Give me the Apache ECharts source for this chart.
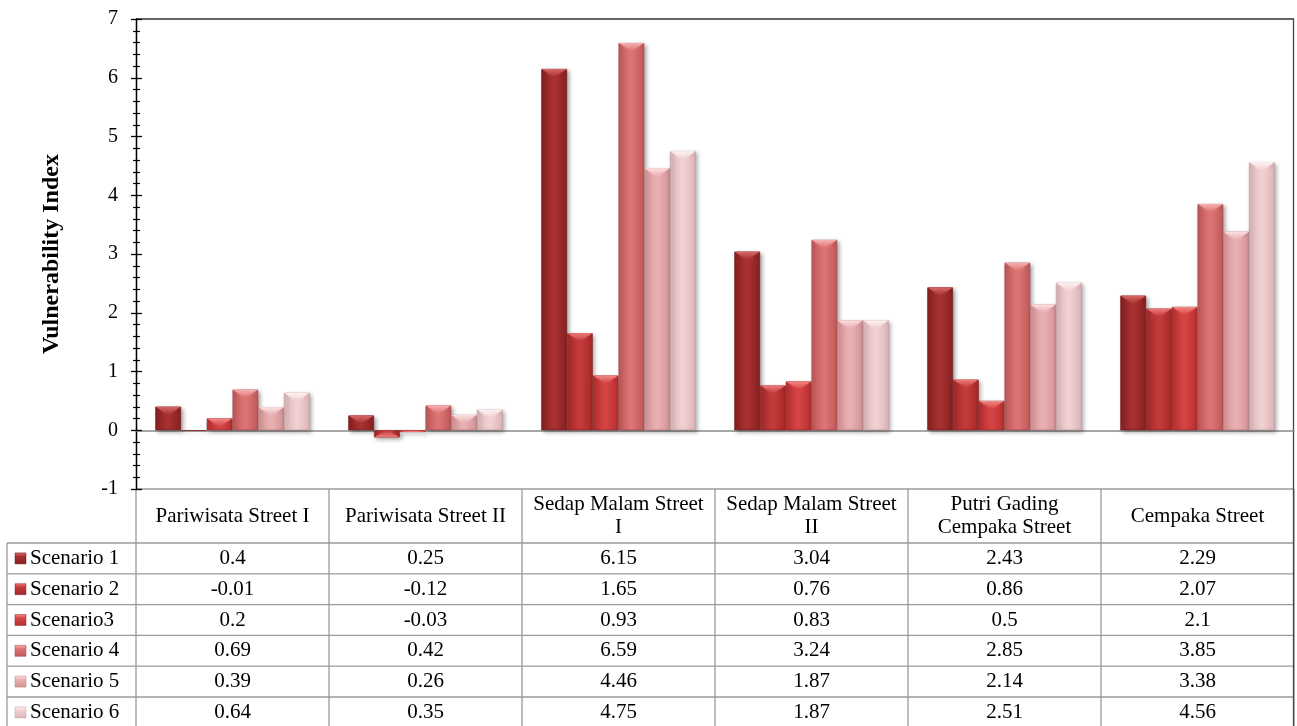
<!DOCTYPE html>
<html>
<head>
<meta charset="utf-8">
<script src="https://cdn.jsdelivr.net/npm/echarts@6/dist/echarts.min.js"></script>
<style>
  html, body { margin: 0; padding: 0; background: #fff; }
  #chart { width: 1297px; height: 726px; }
</style>
</head>
<body>
<div id="chart"></div>
<script>
// Street names (data table header text, with the wrapping used in the header cells)
const categories = ['Pariwisata Street I', 'Pariwisata Street II', 'Sedap Malam Street I',
                    'Sedap Malam Street II', 'Putri Gading Cempaka Street', 'Cempaka Street'];
const headerLabels = ['Pariwisata Street I', 'Pariwisata Street II', 'Sedap Malam Street\nI',
                      'Sedap Malam Street\nII', 'Putri Gading\nCempaka Street', 'Cempaka Street'];

// Vulnerability index per scenario
const seriesNames = ['Scenario 1', 'Scenario 2', 'Scenario3', 'Scenario 4', 'Scenario 5', 'Scenario 6'];
const scenario1 = [0.4, 0.25, 6.15, 3.04, 2.43, 2.29];
const scenario2 = [-0.01, -0.12, 1.65, 0.76, 0.86, 2.07];
const scenario3 = [0.2, -0.03, 0.93, 0.83, 0.5, 2.1];
const scenario4 = [0.69, 0.42, 6.59, 3.24, 2.85, 3.85];
const scenario5 = [0.39, 0.26, 4.46, 1.87, 2.14, 3.38];
const scenario6 = [0.64, 0.35, 4.75, 1.87, 2.51, 4.56];
const seriesData = [scenario1, scenario2, scenario3, scenario4, scenario5, scenario6];

// Y axis range
const yMin = -1, yMax = 7, yStep = 1;

// Bar shading: [edge, centre, border, bevel highlight]
const palette = [
  ['#862020', '#a83030', '#6e1a1a', '#d86a6a'],
  ['#a52828', '#c23a3a', '#8a2020', '#ec7a7a'],
  ['#b82e2e', '#d44444', '#962424', '#f48888'],
  ['#c25858', '#dc7474', '#a04848', '#f6b0b0'],
  ['#d49294', '#e8b0b2', '#b88080', '#fde0e0'],
  ['#dcb4b6', '#f0d0d2', '#c0a0a2', '#fff2f2']
];

const FONT = "'Liberation Serif', 'Times New Roman', serif";
const W = 1297, H = 726;
const gridLeft = 136, gridRight = 3, gridTop = 19, gridBottom = 237;
const tableTop = H - gridBottom;        // header row top
const headerH = 54;
const rowH = 30.8;
const legendLeft = 7;
const catGap = 0.2;                      // barCategoryGap as a fraction
const bevel = 8;

function grad(c) {
  return new echarts.graphic.LinearGradient(0, 0, 1, 0, [
    { offset: 0, color: c[0] },
    { offset: 0.45, color: c[1] },
    { offset: 0.55, color: c[1] },
    { offset: 1, color: c[0] }
  ]);
}

const chart = echarts.init(document.getElementById('chart'), null, { renderer: 'canvas' });

const series = seriesNames.map((name, i) => ({
  name: name,
  type: 'bar',
  data: seriesData[i],
  barGap: '0%',
  barCategoryGap: (catGap * 100) + '%',
  itemStyle: {
    color: grad(palette[i]),
    borderColor: palette[i][2],
    borderWidth: 0.6,
    shadowColor: 'rgba(0,0,0,0.35)',
    shadowBlur: 4,
    shadowOffsetX: 2,
    shadowOffsetY: 2
  }
}));

// Bevelled cap on the end of each bar, placed with the same band layout as the bars
const capData = [];
seriesData.forEach((arr, s) => arr.forEach((v, c) => capData.push([c, v, s])));
series.push({
  type: 'custom',
  silent: true,
  z: 5,
  data: capData,
  encode: { x: 0, y: 1 },
  renderItem: function (params, api) {
    const c = api.value(0), v = api.value(1), s = api.value(2);
    const band = api.size([1, 0])[0];
    const barW = band * (1 - catGap) / seriesNames.length;
    const end = api.coord([c, v]);
    const base = api.coord([c, 0]);
    const x0 = end[0] - band * (1 - catGap) / 2 + s * barW;
    const x1 = x0 + barW;
    const len = Math.abs(base[1] - end[1]);
    const d = Math.min(bevel, len);
    if (d < 1) return null;
    const dir = v >= 0 ? 1 : -1;
    const y = end[1];
    const col = palette[s];
    return {
      type: 'group',
      children: [
        {
          type: 'polygon',
          shape: { points: [[x0 + 0.5, y], [x1 - 0.5, y], [x1 - 0.5 - d, y + dir * d], [x0 + 0.5 + d, y + dir * d]] },
          style: { fill: col[1], opacity: 0.9 }
        },
        {
          type: 'polygon',
          shape: { points: [[x0 + 0.5, y], [x1 - 0.5, y], [(x0 + x1) / 2, y + dir * d]] },
          style: {
            fill: new echarts.graphic.LinearGradient(0, dir > 0 ? 0 : 1, 0, dir > 0 ? 1 : 0, [
              { offset: 0, color: col[3] },
              { offset: 1, color: col[1] }
            ])
          }
        }
      ]
    };
  }
});

// Data table below the plot
const colW = (W - gridLeft - gridRight) / categories.length;
const tableRight = W - gridRight;
const lineStyle = { stroke: '#9a9a9a', lineWidth: 1.3 };
const graphics = [];

function hLine(x1, x2, y, style) {
  graphics.push({ type: 'line', shape: { x1: x1, y1: y, x2: x2, y2: y }, style: style || lineStyle, silent: true });
}
function vLine(x, y1, y2, style) {
  graphics.push({ type: 'line', shape: { x1: x, y1: y1, x2: x, y2: y2 }, style: style || lineStyle, silent: true });
}

// header row
hLine(gridLeft, tableRight, tableTop);
for (let c = 0; c <= categories.length; c++) {
  vLine(gridLeft + c * colW, tableTop, H);
}
headerLabels.forEach((t, c) => {
  graphics.push({
    type: 'text', silent: true,
    style: {
      text: t, x: gridLeft + (c + 0.5) * colW, y: tableTop + headerH / 2,
      align: 'center', verticalAlign: 'middle',
      font: '21px ' + FONT, fill: '#000', lineHeight: 23
    }
  });
});

// scenario rows
const rowsTop = tableTop + headerH;
for (let r = 0; r <= seriesNames.length; r++) {
  hLine(legendLeft, tableRight, rowsTop + r * rowH);
}
vLine(legendLeft, rowsTop, H);
seriesNames.forEach((name, r) => {
  const cy = rowsTop + (r + 0.5) * rowH;
  graphics.push({
    type: 'rect', silent: true,
    shape: { x: legendLeft + 8, y: cy - 5.5, width: 11, height: 11 },
    style: {
      fill: new echarts.graphic.LinearGradient(0, 0, 0, 1, [
        { offset: 0, color: palette[r][3] },
        { offset: 0.35, color: palette[r][1] },
        { offset: 1, color: palette[r][0] }
      ]),
      stroke: palette[r][2], lineWidth: 0.5
    }
  });
  graphics.push({
    type: 'text', silent: true,
    style: { text: name, x: legendLeft + 23, y: cy, align: 'left', verticalAlign: 'middle',
             font: '21px ' + FONT, fill: '#000' }
  });
  seriesData[r].forEach((v, c) => {
    graphics.push({
      type: 'text', silent: true,
      style: { text: String(v), x: gridLeft + (c + 0.5) * colW, y: cy, align: 'center',
               verticalAlign: 'middle', font: '21px ' + FONT, fill: '#000' }
    });
  });
});

// plot frame: top edge and right edge (right edge runs down through the table)
hLine(gridLeft, tableRight, gridTop, { stroke: '#333', lineWidth: 1.3 });
vLine(tableRight - 0.5, gridTop, H, { stroke: '#444', lineWidth: 1.3 });

const yAxisBase = {
  type: 'value', min: yMin, max: yMax, interval: yStep,
  splitLine: { show: false },
  axisLine: { show: true, onZero: false, lineStyle: { color: '#000', width: 1.3 } }
};

chart.setOption({
  animation: false,
  backgroundColor: '#fff',
  grid: { left: gridLeft, right: gridRight, top: gridTop, bottom: gridBottom, containLabel: false },
  xAxis: {
    type: 'category', data: categories,
    axisLine: { show: true, onZero: true, lineStyle: { color: '#8a8a8a', width: 1.5 } },
    axisTick: { show: false },
    axisLabel: { show: false },
    splitLine: { show: false }
  },
  yAxis: [
    Object.assign({}, yAxisBase, {
      name: 'Vulnerability Index',
      nameLocation: 'middle',
      nameGap: 72,
      nameRotate: 90,
      nameTextStyle: { fontFamily: FONT, fontSize: 24, fontWeight: 'bold', color: '#000' },
      axisTick: { show: true, inside: false, length: 5, lineStyle: { color: '#000', width: 1.3 } },
      minorTick: { show: true, splitNumber: 5, length: 3, lineStyle: { color: '#000', width: 1.2 } },
      axisLabel: { fontFamily: FONT, fontSize: 20, color: '#000', margin: 18 }
    }),
    Object.assign({}, yAxisBase, {
      position: 'left',
      axisTick: { show: true, inside: true, length: 6, lineStyle: { color: '#000', width: 1.3 } },
      minorTick: { show: true, splitNumber: 5, length: 4, lineStyle: { color: '#000', width: 1.2 } },
      axisLabel: { show: false }
    })
  ],
  series: series,
  graphic: graphics
});
</script>
</body>
</html>
